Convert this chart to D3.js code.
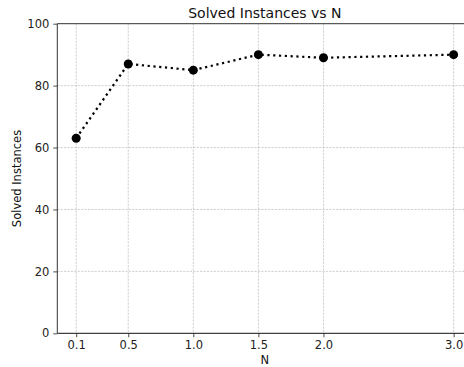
<!DOCTYPE html>
<html><head><meta charset="utf-8">
<script src="https://cdn.jsdelivr.net/npm/d3@7"></script>
<style>body{margin:0;background:#fff}svg{display:block}text{font-family:"DejaVu Sans",sans-serif}</style>
</head><body>
<script>
const nValues = [0.1, 0.5, 1.0, 1.5, 2.0, 3.0];
const solved = [63, 87, 85, 90, 89, 90];
const xTicks = [0.1, 0.5, 1.0, 1.5, 2.0, 3.0];
const yTicks = [0, 20, 40, 60, 80, 100];

const W = 464, H = 367;
const L = 57.3, R = 472.5, T = 23.7, B = 333.3;
const svg = d3.select("body").append("svg").attr("width", W).attr("height", H);
const x = d3.scaleLinear().domain([-0.045, 3.145]).range([L, R]);
const y = d3.scaleLinear().domain([0, 100]).range([B, T]);

// grid
svg.append("g").selectAll("line").data(xTicks).join("line")
  .attr("x1", d => x(d)).attr("x2", d => x(d)).attr("y1", T).attr("y2", B)
  .attr("stroke", "#b0b0b0").attr("stroke-width", 0.6).attr("stroke-dasharray", "2.2,1.2");
svg.append("g").selectAll("line").data(yTicks.filter(d => d > 0 && d < 100)).join("line")
  .attr("x1", L).attr("x2", R).attr("y1", d => y(d)).attr("y2", d => y(d))
  .attr("stroke", "#b0b0b0").attr("stroke-width", 0.6).attr("stroke-dasharray", "2.2,1.2");

// axes
const xa = svg.append("g").attr("transform", `translate(0,${B})`)
  .call(d3.axisBottom(x).tickValues(xTicks).tickFormat(d3.format(".1f")).tickSizeOuter(0).tickSize(4).tickPadding(4));
const ya = svg.append("g").attr("transform", `translate(${L},0)`)
  .call(d3.axisLeft(y).tickValues(yTicks).tickSizeOuter(0).tickSize(4).tickPadding(4));
[xa, ya].forEach(a => {
  a.select(".domain").remove();
  a.selectAll("text").attr("font-size", 11.5).attr("fill", "#222").attr("font-family", "DejaVu Sans, sans-serif");
  a.selectAll("line").attr("stroke", "#222").attr("stroke-width", 0.8);
});
// spines
svg.append("line").attr("x1", L).attr("x2", R).attr("y1", B).attr("y2", B).attr("stroke", "#111").attr("stroke-width", 1);
svg.append("line").attr("x1", L).attr("x2", L).attr("y1", T).attr("y2", B).attr("stroke", "#333").attr("stroke-width", 1);
svg.append("line").attr("x1", L).attr("x2", R).attr("y1", T).attr("y2", T).attr("stroke", "#333").attr("stroke-width", 1);

// line
const data = nValues.map((n, i) => ({n, v: solved[i]}));
svg.append("path").datum(data)
  .attr("d", d3.line().x(d => x(d.n)).y(d => y(d.v)))
  .attr("fill", "none").attr("stroke", "#000").attr("stroke-width", 2.2)
  .attr("stroke-dasharray", "2.2,3.6");
svg.append("g").selectAll("circle").data(data).join("circle")
  .attr("cx", d => x(d.n)).attr("cy", d => y(d.v)).attr("r", 4.5).attr("fill", "#000");

// labels
svg.append("text").attr("x", (L + R) / 2).attr("y", 18).attr("text-anchor", "middle")
  .attr("font-size", 14).attr("fill", "#111").text("Solved Instances vs N");
svg.append("text").attr("x", (L + R) / 2).attr("y", 364).attr("text-anchor", "middle")
  .attr("font-size", 11.5).attr("fill", "#111").text("N");
svg.append("text").attr("transform", `translate(20.5,${(T + B) / 2}) rotate(-90)`).attr("text-anchor", "middle")
  .attr("font-size", 11.5).attr("fill", "#111").text("Solved Instances");
</script>
</body></html>
